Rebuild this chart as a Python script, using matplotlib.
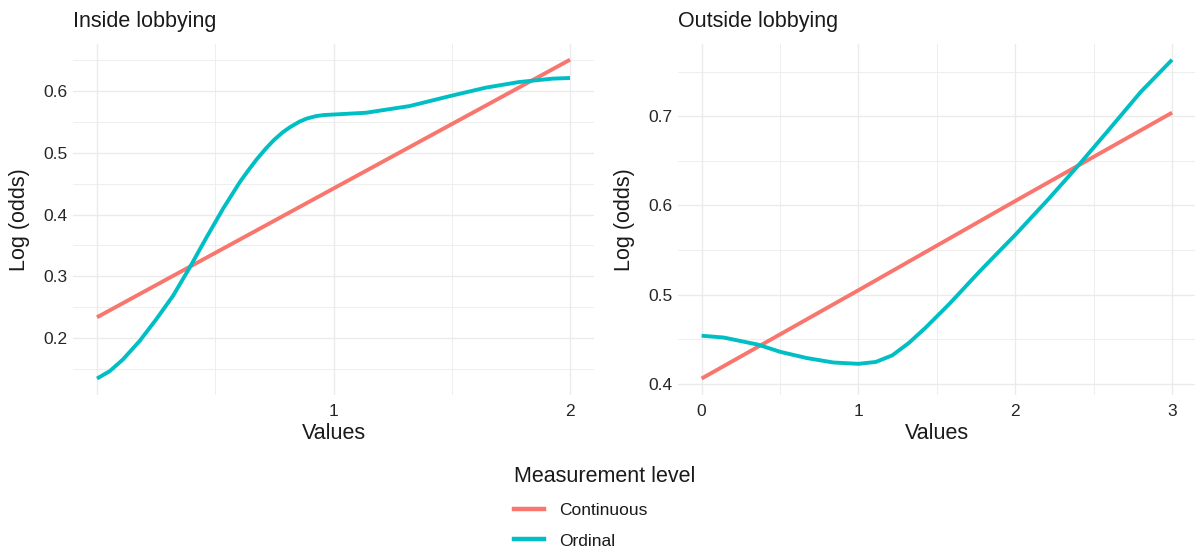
import numpy as np
import matplotlib
matplotlib.use("Agg")
import matplotlib.pyplot as plt
from matplotlib.lines import Line2D

plt.rcParams["font.family"] = ["Liberation Sans", "DejaVu Sans"]

RED = "#F8766D"
TEAL = "#00BFC4"
GRID = "#EBEBEB"
TXT = "#1A1A1A"
TICK = "#262626"

# Inside lobbying
in_cont_x = [0, 1, 2]
in_cont_y = [0.234, 0.442, 0.650]
in_ord_x = [0, 0.054, 0.110, 0.181, 0.251, 0.322, 0.393, 0.463, 0.534, 0.605,
            0.645, 0.675, 0.715, 0.75, 0.786, 0.816, 0.856, 0.887, 0.927, 0.958,
            1.0, 1.138, 1.322, 1.5, 1.645, 1.785, 1.927, 2.0]
in_ord_y = [0.135, 0.147, 0.166, 0.196, 0.231, 0.269, 0.315, 0.363, 0.410, 0.453,
            0.474, 0.489, 0.507, 0.521, 0.533, 0.541, 0.550, 0.555, 0.559, 0.5606,
            0.5615, 0.5644, 0.5752, 0.592, 0.605, 0.6140, 0.6195, 0.6205]

# Outside lobbying
out_cont_x = [0, 1, 2, 3]
out_cont_y = [0.406, 0.505, 0.605, 0.704]
out_ord_x = [0, 0.14, 0.36, 0.5, 0.67, 0.84, 1.0, 1.11, 1.216, 1.322, 1.428,
             1.502, 1.576, 1.640, 1.767, 1.894, 2.0, 2.1, 2.211, 2.408, 2.588,
             2.799, 3.0]
out_ord_y = [0.454, 0.452, 0.444, 0.436, 0.429, 0.424, 0.4225, 0.4246, 0.432, 0.446,
             0.463, 0.476, 0.489, 0.501, 0.525, 0.548, 0.567, 0.586, 0.607, 0.646,
             0.683, 0.727, 0.7633]

panels = [
    dict(title="Inside lobbying", cx=in_cont_x, cy=in_cont_y, ox=in_ord_x, oy=in_ord_y,
         xmaj=[0, 1, 2], xlab=["", "1", "2"], xmin=[0.5, 1.5],
         ymaj=[0.2, 0.3, 0.4, 0.5, 0.6], ymin=[0.15, 0.25, 0.35, 0.45, 0.55, 0.65]),
    dict(title="Outside lobbying", cx=out_cont_x, cy=out_cont_y, ox=out_ord_x, oy=out_ord_y,
         xmaj=[0, 1, 2, 3], xlab=["0", "1", "2", "3"], xmin=[0.5, 1.5, 2.5],
         ymaj=[0.4, 0.5, 0.6, 0.7], ymin=[0.45, 0.55, 0.65, 0.75]),
]

W, H = 1195, 551
fig = plt.figure(figsize=(W / 100, H / 100), dpi=100, facecolor="white")

ax_rects = [
    [73.35 / W, 1 - 394.5 / H, 520.3 / W, 350.7 / H],
    [678.1 / W, 1 - 394.5 / H, 517.5 / W, 350.7 / H],
]

for p, rect in zip(panels, ax_rects):
    ax = fig.add_axes(rect)
    xs = p["cx"] + p["ox"]
    ys = p["cy"] + p["oy"]
    xr = max(xs) - min(xs)
    yr = max(ys) - min(ys)
    ax.set_xlim(min(xs) - 0.05 * xr, max(xs) + 0.05 * xr)
    ax.set_ylim(min(ys) - 0.05 * yr, max(ys) + 0.05 * yr)

    ax.set_xticks(p["xmaj"])
    ax.set_xticklabels(p["xlab"])
    ax.set_xticks(p["xmin"], minor=True)
    ax.set_yticks(p["ymaj"])
    ax.set_yticklabels([f"{v:.1f}" for v in p["ymaj"]])
    ax.set_yticks(p["ymin"], minor=True)
    ax.grid(True, which="major", color=GRID, lw=1.0, zorder=0)
    ax.grid(True, which="minor", color=GRID, lw=0.6, zorder=0)
    ax.set_axisbelow(True)
    for s in ax.spines.values():
        s.set_visible(False)
    ax.tick_params(which="both", length=0, labelsize=12.5, colors=TICK)
    ax.tick_params(axis="x", pad=7)
    ax.tick_params(axis="y", pad=4)

    ax.plot(p["cx"], p["cy"], color=RED, lw=2.8, solid_capstyle="butt",
            solid_joinstyle="round", zorder=3)
    ax.plot(p["ox"], p["oy"], color=TEAL, lw=2.8, solid_capstyle="butt",
            solid_joinstyle="round", zorder=3)

    ax.set_title(p["title"], loc="left", fontsize=15.5, color=TXT, pad=12)
    ax.set_xlabel("Values", fontsize=15.5, color=TXT)
    ax.set_ylabel("Log (odds)", fontsize=15.5, color=TXT)
    ax.xaxis.set_label_coords(0.5, -0.082)
    ax.yaxis.set_label_coords(-0.083, 0.5)

handles = [Line2D([], [], color=RED, lw=3.2), Line2D([], [], color=TEAL, lw=3.2)]
leg = fig.legend(handles, ["Continuous", "Ordinal"], title="Measurement level",
                 loc="upper left", bbox_to_anchor=(514 / W, 1 - 466 / H),
                 frameon=False, fontsize=12.5, title_fontsize=15.5,
                 alignment="left", handlelength=1.75, handletextpad=0.85,
                 labelspacing=0.9, borderpad=0, borderaxespad=0)
leg.get_title().set_color(TXT)
for t in leg.get_texts():
    t.set_color(TXT)

fig.savefig("out.png", dpi=100, facecolor="white")
